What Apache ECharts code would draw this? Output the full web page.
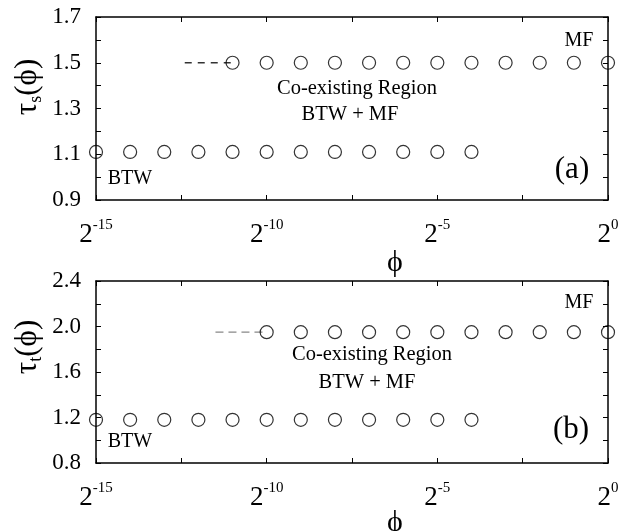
<!DOCTYPE html>
<html><head><meta charset="utf-8">
<script src="https://cdn.jsdelivr.net/npm/echarts@6/dist/echarts.min.js"></script>
<style>html,body{margin:0;padding:0;background:#fff}#c{width:633px;height:531px}</style>
</head><body><div id="c"></div>
<script>
// log2(phi) exponents
const btwExp = [-15,-14,-13,-12,-11,-10,-9,-8,-7,-6,-5,-4];
const mfExpA = [-11,-10,-9,-8,-7,-6,-5,-4,-3,-2,-1,0];
const mfExpB = [-10,-9,-8,-7,-6,-5,-4,-3,-2,-1,0];
const tauS_BTW = [1.11,1.11,1.11,1.11,1.11,1.11,1.11,1.11,1.11,1.11,1.11,1.11];
const tauS_MF  = [1.5,1.5,1.5,1.5,1.5,1.5,1.5,1.5,1.5,1.5,1.5,1.5];
const tauT_BTW = [1.18,1.18,1.18,1.18,1.18,1.18,1.18,1.18,1.18,1.18,1.18,1.18];
const tauT_MF  = [1.95,1.95,1.95,1.95,1.95,1.95,1.95,1.95,1.95,1.95,1.95];
const dashA_x = [-12.4,-11]; const dashA_y = [1.5,1.5];
const dashB_x = [-11.5,-10]; const dashB_y = [1.95,1.95];
const xTickLabels = [-15,-10,-5,0];
const yTicksA = [0.9,1.1,1.3,1.5,1.7];
const yTicksB = [0.8,1.2,1.6,2.0,2.4];

const FONT = '"Liberation Serif", "Times New Roman", serif';
const zip = (a,b)=>a.map((v,i)=>[v,b[i]]);
const chart = echarts.init(document.getElementById('c'), null, {renderer:'canvas'});

function xAxisDef(grid, show){
  return {
    type:'value', gridIndex:grid, min:-15, max:0, interval:2.5,
    position: show ? 'bottom':'top',
    axisLine:{show:true, onZero:false, lineStyle:{color:'#000', width:1.5}},
    axisTick:{show:true, inside:true, length:5, lineStyle:{color:'#000'}},
    splitLine:{show:false},
    axisLabel:{show:show, margin:18, fontFamily:FONT,
      formatter:v=> xTickLabels.some(t=>Math.abs(t-v)<1e-6) ? '{b|2}{s|'+v+'}' : '',
      rich:{b:{fontSize:27, fontFamily:FONT, color:'#000'}, s:{fontSize:15, fontFamily:FONT, color:'#000', padding:[0,0,18,0]}}
    }
  };
}
function yAxisDef(grid, min, max, interval, labels, show){
  return {
    type:'value', gridIndex:grid, min:min, max:max, interval:interval,
    position: show ? 'left':'right',
    axisLine:{show:true, onZero:false, lineStyle:{color:'#000', width:1.5}},
    axisTick:{show:true, inside:true, length:5, lineStyle:{color:'#000'}},
    splitLine:{show:false},
    axisLabel:{show:show, margin:15, fontFamily:FONT, fontSize:23, color:'#000',
      formatter:v=> labels.some(t=>Math.abs(t-v)<1e-6) ? v.toFixed(1) : ''}
  };
}
const circ = {symbol:'circle', symbolSize:13, itemStyle:{color:'rgba(0,0,0,0)', borderColor:'#000', borderWidth:1.2}};
function sc(xi, yi, data){
  return Object.assign({type:'scatter', xAxisIndex:xi, yAxisIndex:yi, data:data, clip:false, silent:true, z:3}, circ);
}
function dash(xi, yi, data, color, pat){
  return {type:'line', xAxisIndex:xi, yAxisIndex:yi, data:data, symbol:'none', silent:true,
    lineStyle:{color:color, width:1.3, type:pat}};
}
function txt(x, y, text, size, align){
  return {type:'text', x:x, y:y, style:{text:text, fontFamily:FONT, fontSize:size, fill:'#000', align:align||'center', verticalAlign:'middle'}};
}
function ylab(x, y, sub){
  return {type:'text', x:x, y:y, rotation:Math.PI/2,
    style:{text:'{t|τ}{s|'+sub+'}{t|(ϕ)}', align:'center', verticalAlign:'middle',
      rich:{t:{fontSize:31, fontFamily:FONT, fill:'#000'}, s:{fontSize:18, fontFamily:FONT, fill:'#000', padding:[16,0,0,0]}}}};
}

chart.setOption({
  animation:false,
  backgroundColor:'#fff',
  grid:[
    {left:96, top:17, width:512, height:183},
    {left:96, top:281, width:512, height:182}
  ],
  xAxis:[xAxisDef(0,true), xAxisDef(0,false), xAxisDef(1,true), xAxisDef(1,false)],
  yAxis:[yAxisDef(0,0.9,1.7,0.1,yTicksA,true), yAxisDef(0,0.9,1.7,0.1,yTicksA,false),
         yAxisDef(1,0.8,2.4,0.2,yTicksB,true), yAxisDef(1,0.8,2.4,0.2,yTicksB,false)],
  series:[
    sc(0,0,zip(btwExp,tauS_BTW)),
    sc(0,0,zip(mfExpA,tauS_MF)),
    dash(0,0,zip(dashA_x,dashA_y),'#333',[7,6]),
    sc(2,2,zip(btwExp,tauT_BTW)),
    sc(2,2,zip(mfExpB,tauT_MF)),
    dash(2,2,zip(dashB_x,dashB_y),'#888',[8,5])
  ],
  graphic:[
    ylab(28,87,'s'),
    ylab(28,347,'t'),
    txt(395,263,'ϕ',30),
    txt(395,523,'ϕ',30),
    txt(357,89,'Co-existing Region',20.5),
    txt(350,115,'BTW + MF',20.5),
    txt(579,41,'MF',20),
    txt(130,179,'BTW',20),
    txt(572,170,'(a)',31),
    txt(372,355,'Co-existing Region',20.5),
    txt(367,383,'BTW + MF',20.5),
    txt(579,303,'MF',20),
    txt(130,442,'BTW',20),
    txt(571,430,'(b)',31)
  ]
});
</script>
</body></html>
